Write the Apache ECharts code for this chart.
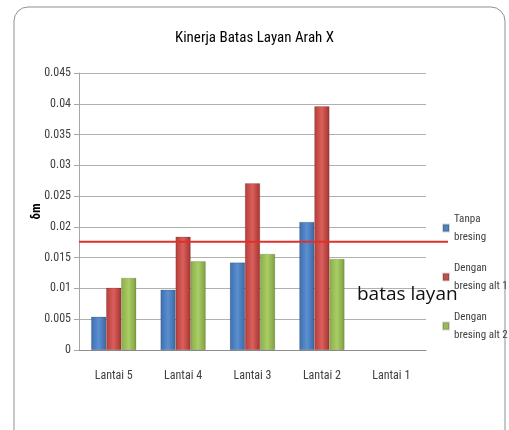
<!DOCTYPE html>
<html><head><meta charset="utf-8">
<script src="https://cdn.jsdelivr.net/npm/echarts@6/dist/echarts.min.js"></script>
<style>html,body{margin:0;padding:0;background:#fff}#c{width:509px;height:430px}</style>
</head><body><div id="c"></div>
<script>
const categories = ['Lantai 5', 'Lantai 4', 'Lantai 3', 'Lantai 2', 'Lantai 1'];
const tanpaBresing = [0.0054, 0.0098, 0.0142, 0.0208, null];
const bresingAlt1 = [0.0101, 0.0184, 0.0271, 0.0396, null];
const bresingAlt2 = [0.0117, 0.0144, 0.0156, 0.0148, null];
const batasLayan = 0.0176;
const seriesNames = ['Tanpa\nbresing', 'Dengan\nbresing alt 1', 'Dengan\nbresing alt 2'];

const FONT = "'Liberation Sans Narrow', 'Roboto Condensed', 'Noto Sans', sans-serif";
function grad(c1, c2, c3) {
  return new echarts.graphic.LinearGradient(0, 0, 1, 0, [
    {offset: 0, color: c1}, {offset: 0.5, color: c2}, {offset: 1, color: c3}
  ]);
}
const colors = [
  grad('#3e6fae', '#5b8fd0', '#3b68a3'),
  grad('#b53c39', '#d9605c', '#a8312e'),
  grad('#8aad48', '#aacd66', '#7f9f40')
];
const legendColors = ['#4F81BD', '#C0504D', '#9BBB59'];
const chart = echarts.init(document.getElementById('c'), null, {renderer: 'canvas'});
function mk(name, data, i) {
  return {
    name: name, type: 'bar', data: data, barGap: '0%', barCategoryGap: '35%',
    itemStyle: {color: colors[i], borderColor: 'rgba(0,0,0,0.15)', borderWidth: 0.5},
    emphasis: {disabled: true}
  };
}
chart.setOption({
  animation: false,
  color: legendColors,
  title: {
    text: 'Kinerja Batas Layan Arah X', left: 'center', top: 26,
    textStyle: {fontFamily: FONT, fontSize: 15, fontWeight: 'normal', color: '#000'}
  },
  legend: {
    orient: 'vertical', left: 442, top: 210, padding: 0, itemWidth: 6, itemHeight: 7, itemGap: 13,
    icon: 'rect',
    textStyle: {fontFamily: FONT, fontSize: 11, color: '#404040', lineHeight: 18},
    data: seriesNames.map((n, i) => ({name: n, itemStyle: {color: legendColors[i]}}))
  },
  grid: {left: 79, right: 83, top: 73, bottom: 80, containLabel: false},
  xAxis: {
    type: 'category', data: categories,
    axisLine: {lineStyle: {color: '#8c8c8c'}},
    axisTick: {show: false},
    axisLabel: {fontFamily: FONT, fontSize: 12, color: '#404040', margin: 20}
  },
  yAxis: {
    type: 'value', min: 0, max: 0.045, interval: 0.005,
    name: 'δm', nameLocation: 'middle', nameGap: 36, nameRotate: 90, nameMoveOverlap: false,
    nameTextStyle: {fontFamily: FONT, fontSize: 13, fontWeight: 'bold', color: '#000'},
    axisLine: {show: true, lineStyle: {color: '#a6a6a6'}},
    axisTick: {show: true, length: 5, lineStyle: {color: '#a6a6a6'}},
    splitLine: {lineStyle: {color: '#b0b0b0'}},
    axisLabel: {fontFamily: FONT, fontSize: 12, color: '#404040', margin: 8,
      formatter: v => String(parseFloat(v.toFixed(3)))}
  },
  series: [
    mk(seriesNames[0], tanpaBresing, 0),
    mk(seriesNames[1], bresingAlt1, 1),
    mk(seriesNames[2], bresingAlt2, 2)
  ]
});
const yPx = chart.convertToPixel({yAxisIndex: 0}, batasLayan);
chart.setOption({
  graphic: [
    {type: 'rect', shape: {x: 14, y: 7, width: 491, height: 440, r: 14},
      style: {fill: 'none', stroke: '#8f8f8f', lineWidth: 1}, z: -1},
    {type: 'line', shape: {x1: 79, y1: yPx, x2: 448, y2: yPx},
      style: {stroke: '#e0302c', lineWidth: 2}, z: 10},
    {type: 'text', left: 357, top: 285,
      style: {text: 'batas layan', font: "19px 'Open Sans', 'Noto Sans', sans-serif", fill: '#111'}, z: 11}
  ]
});
</script></body></html>
